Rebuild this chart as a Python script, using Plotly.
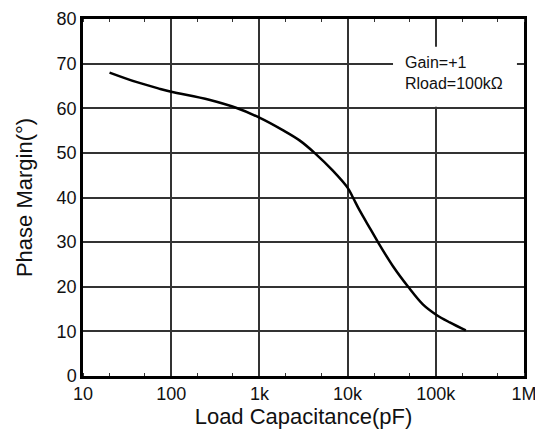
import plotly.graph_objects as go

cap_pf = [20, 40, 73, 100, 269, 543, 1000, 1840, 2850, 4220, 6800, 10070, 11500, 13700, 17800, 22100, 32700, 48600, 71800, 100000, 144000, 219000]
phase_margin = [68.0, 65.9, 64.4, 63.7, 61.9, 60.1, 57.9, 55.1, 52.8, 50.0, 46.0, 42.1, 40.0, 37.1, 33.2, 30.0, 24.6, 20.0, 16.0, 13.8, 12.0, 10.2]

x_tick_vals = [10, 100, 1000, 10000, 100000, 1000000]
x_tick_text = ["10", "100", "1k", "10k", "100k", "1M"]
y_tick_vals = [0, 10, 20, 30, 40, 50, 60, 70, 80]

fig = go.Figure()
fig.add_trace(go.Scatter(x=cap_pf, y=phase_margin, mode="lines",
                         line=dict(color="black", width=2.5, shape="spline", smoothing=1.0),
                         showlegend=False))

fig.add_shape(type="rect", xref="paper", yref="paper",
              x0=0.703, x1=0.984, y0=0.754, y1=0.922,
              fillcolor="white", line=dict(width=0), layer="above")
fig.add_annotation(x=0.727, y=0.85, xref="paper", yref="paper",
                   text="Gain=+1<br>Rload=100kΩ", showarrow=False,
                   align="left", xanchor="left", yanchor="middle",
                   borderpad=0,
                   font=dict(family="Liberation Sans", size=16, color="#111"))

fig.update_layout(
    width=535, height=431,
    margin=dict(l=75, r=19, t=11, b=63),
    paper_bgcolor="white", plot_bgcolor="white",
    font=dict(family="Liberation Sans", color="#111"),
    xaxis=dict(type="log", range=[1, 6], tickvals=x_tick_vals, ticktext=x_tick_text,
               showgrid=True, gridcolor="#333", gridwidth=1.5,
               showline=True, linecolor="black", linewidth=2.5, mirror="ticks",
               ticks="", tickfont=dict(size=18), automargin=False,
               minor=dict(ticks="inside", ticklen=3, tickcolor="#333", showgrid=False),
               title=dict(text="Load Capacitance(pF)", font=dict(size=22), standoff=4),
               zeroline=False),
    yaxis=dict(range=[0, 80], tickvals=y_tick_vals,
               showgrid=True, gridcolor="#333", gridwidth=1.5,
               showline=True, linecolor="black", linewidth=2.5, mirror=True,
               ticks="", tickfont=dict(size=18), automargin=False,
               title=dict(text="Phase Margin(°)", font=dict(size=22), standoff=18),
               zeroline=False),
)

fig.write_html("out.html")
